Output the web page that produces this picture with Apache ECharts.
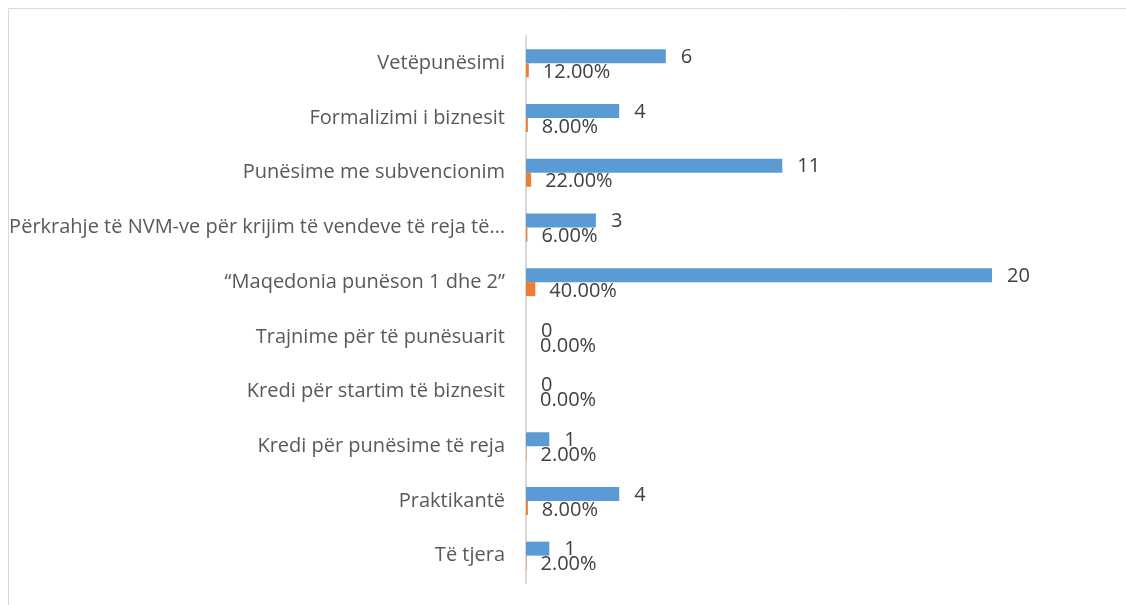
<!DOCTYPE html>
<html>
<head>
<meta charset="utf-8">
<script src="https://cdn.jsdelivr.net/npm/echarts@6/dist/echarts.min.js"></script>
<style>
  html, body { margin: 0; padding: 0; background: #fff; }
  #chart { width: 1126px; height: 605px; }
</style>
</head>
<body>
<div id="chart"></div>
<script>
const categories = [
  'Vetëpunësimi',
  'Formalizimi i biznesit',
  'Punësime me subvencionim',
  'Përkrahje të NVM-ve për krijim të vendeve të reja të…',
  '“Maqedonia punëson 1 dhe 2”',
  'Trajnime për të punësuarit',
  'Kredi për startim të biznesit',
  'Kredi për punësime të reja',
  'Praktikantë',
  'Të tjera',
];
const counts = [6, 4, 11, 3, 20, 0, 0, 1, 4, 1];
const shares = [0.12, 0.08, 0.22, 0.06, 0.40, 0, 0, 0.02, 0.08, 0.02];

const chart = echarts.init(document.getElementById('chart'));

const labelFont = 'Open Sans';

const option = {
  animation: false,
  graphic: [
    {
      type: 'rect',
      shape: { x: 8.5, y: 8.5, width: 1130, height: 620 },
      style: { fill: 'none', stroke: '#d9d9d9', lineWidth: 1 },
      silent: true,
    },
  ],
  grid: {
    left: 526,
    right: 134,
    top: 36,
    bottom: 22,
  },
  xAxis: {
    type: 'value',
    min: 0,
    max: 20,
    show: false,
  },
  yAxis: {
    type: 'category',
    inverse: true,
    data: categories,
    axisTick: { show: false },
    axisLine: {
      lineStyle: { color: '#d9d9d9', width: 2 },
    },
    axisLabel: {
      color: '#595959',
      fontFamily: labelFont,
      fontSize: 20,
      margin: 21,
    },
    splitLine: { show: false },
  },
  series: [
    {
      name: 'Numri',
      type: 'bar',
      data: counts,
      barWidth: 14,
      barGap: '0%',
      itemStyle: { color: '#5b9bd5' },
      label: {
        show: true,
        position: 'right',
        distance: 15,
        offset: [0, 1],
        color: '#404040',
        fontFamily: labelFont,
        fontSize: 20,
      },
    },
    {
      name: 'Përqindja',
      type: 'bar',
      data: shares,
      barWidth: 14,
      itemStyle: { color: '#ed7d31' },
      label: {
        show: true,
        position: 'right',
        distance: 14,
        offset: [0, 2],
        color: '#404040',
        fontFamily: labelFont,
        fontSize: 20,
        formatter: (p) => (p.value * 100).toFixed(2) + '%',
      },
    },
  ],
};

chart.setOption(option);
</script>
</body>
</html>
